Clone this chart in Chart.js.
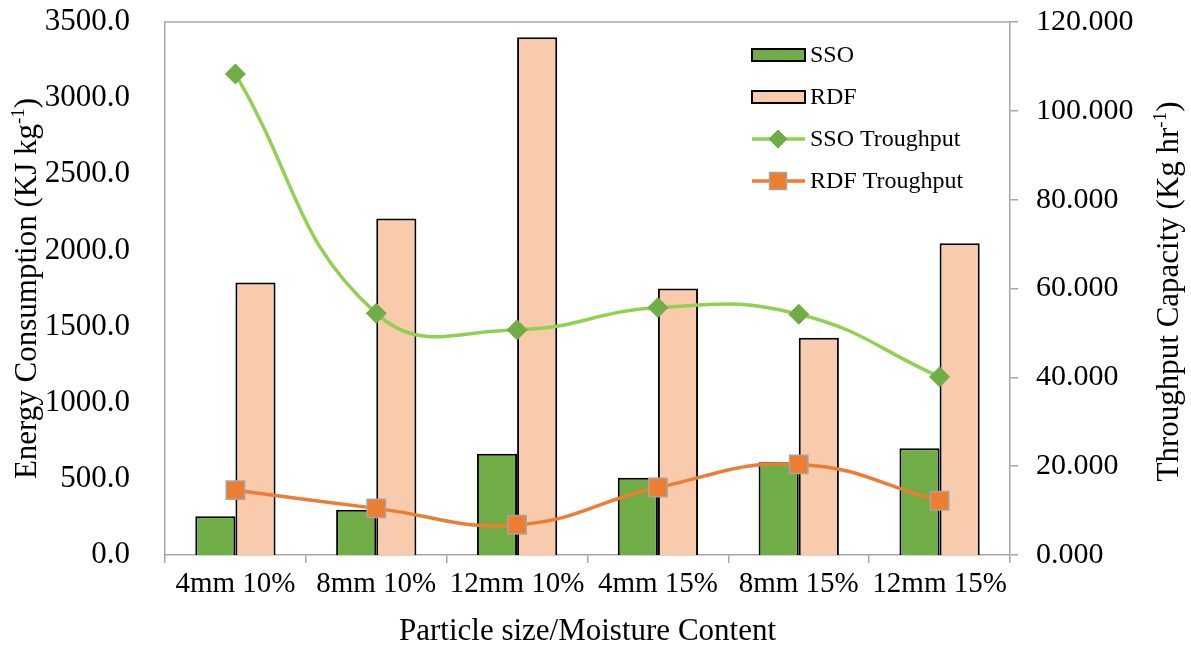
<!DOCTYPE html>
<html>
<head>
<meta charset="utf-8">
<script src="https://cdn.jsdelivr.net/npm/chart.js@4"></script>
<style>
  body { margin: 0; background: #ffffff; }
  canvas { display: block; }
</style>
</head>
<body>
<canvas id="graficoEnergia" width="1191" height="650"></canvas>
<script>
// Datos
const categorias = ['4mm 10%', '8mm 10%', '12mm 10%', '4mm 15%', '8mm 15%', '12mm 15%'];
const energiaSSO = [255, 297, 665, 508, 609, 701];
const energiaRDF = [1790, 2210, 3400, 1750, 1427, 2047];
const capacidadSSO = [108.3, 54.4, 50.7, 55.7, 54.2, 40.1];
const capacidadRDF = [14.6, 10.5, 6.8, 15.2, 20.4, 12.2];

const FUENTE = "'Liberation Serif', 'Times New Roman', serif";
const GRIS = '#A6A6A6';

// Título vertical con superíndice (se lee de abajo hacia arriba)
function tituloVertical(ctx, x, y, base, sup, cola, size) {
  ctx.save();
  ctx.translate(x, y);
  ctx.rotate(-Math.PI / 2);
  ctx.fillStyle = '#000000';
  ctx.textBaseline = 'middle';
  ctx.textAlign = 'left';
  const fNormal = size + 'px ' + FUENTE;
  const fSup = Math.round(size * 0.62) + 'px ' + FUENTE;
  ctx.font = fNormal;
  const w1 = ctx.measureText(base).width;
  const w3 = ctx.measureText(cola).width;
  ctx.font = fSup;
  const w2 = ctx.measureText(sup).width;
  let cx = -(w1 + w2 + w3) / 2;
  ctx.font = fNormal;
  ctx.fillText(base, cx, 0);
  cx += w1;
  ctx.font = fSup;
  ctx.fillText(sup, cx, -size * 0.3);
  cx += w2;
  ctx.font = fNormal;
  ctx.fillText(cola, cx, 0);
  ctx.restore();
}

const decoraciones = {
  id: 'decoraciones',
  afterDraw(chart) {
    const { ctx, chartArea } = chart;
    const ds = chart.data.datasets;
    ctx.save();

    // borde superior del área
    ctx.strokeStyle = GRIS;
    ctx.lineWidth = 1.5;
    ctx.beginPath();
    ctx.moveTo(chartArea.left, chartArea.top);
    ctx.lineTo(chartArea.right, chartArea.top);
    ctx.stroke();

    // títulos de los ejes verticales
    const medio = (chartArea.top + chartArea.bottom) / 2;
    tituloVertical(ctx, 28, medio, 'Energy Consumption (KJ kg', '-1', ')', 31);
    tituloVertical(ctx, 1170, medio + 3, 'Throughput Capacity (Kg hr', '-1', ')', 31);

    // leyenda dentro del área
    const x0 = 752, x1 = 805, xm = 778, xt = 810;
    const filas = [55, 97, 139, 181];
    ctx.font = '24px ' + FUENTE;
    ctx.textBaseline = 'middle';
    ctx.textAlign = 'left';
    ds.forEach((d, i) => {
      const y = filas[i];
      if (d.type === 'bar') {
        ctx.fillStyle = d.backgroundColor;
        ctx.fillRect(x0, y - 6, x1 - x0, 12);
        ctx.strokeStyle = '#000000';
        ctx.lineWidth = 2;
        ctx.strokeRect(x0, y - 6, x1 - x0, 12);
      } else {
        ctx.strokeStyle = d.borderColor;
        ctx.lineWidth = d.borderWidth;
        ctx.beginPath();
        ctx.moveTo(x0, y);
        ctx.lineTo(x1, y);
        ctx.stroke();
        ctx.fillStyle = d.pointBackgroundColor;
        ctx.strokeStyle = d.pointBorderColor;
        ctx.lineWidth = d.pointBorderWidth;
        ctx.beginPath();
        if (d.pointStyle === 'rectRot') {
          const r = 9;
          ctx.moveTo(xm, y - r);
          ctx.lineTo(xm + r, y);
          ctx.lineTo(xm, y + r);
          ctx.lineTo(xm - r, y);
          ctx.closePath();
        } else {
          ctx.rect(xm - 8.5, y - 8.5, 17, 17);
        }
        ctx.fill();
        ctx.stroke();
      }
      ctx.fillStyle = '#000000';
      ctx.fillText(d.label, xt, y + 1);
    });
    ctx.restore();
  }
};

const ctx = document.getElementById('graficoEnergia').getContext('2d');
new Chart(ctx, {
  data: {
    labels: categorias,
    datasets: [
      {
        type: 'bar',
        label: 'SSO',
        data: energiaSSO,
        yAxisID: 'y',
        backgroundColor: '#70AD47',
        borderColor: '#000000',
        borderWidth: 2,
        categoryPercentage: 0.57,
        barPercentage: 1.0,
        order: 2
      },
      {
        type: 'bar',
        label: 'RDF',
        data: energiaRDF,
        yAxisID: 'y',
        backgroundColor: '#F8CBAD',
        borderColor: '#000000',
        borderWidth: 2,
        categoryPercentage: 0.57,
        barPercentage: 1.0,
        order: 2
      },
      {
        type: 'line',
        label: 'SSO Troughput',
        data: capacidadSSO,
        yAxisID: 'y2',
        borderColor: '#92D050',
        borderWidth: 3.5,
        tension: 0.45,
        pointStyle: 'rectRot',
        pointRadius: 10,
        pointBackgroundColor: '#70AD47',
        pointBorderColor: '#70AD47',
        pointBorderWidth: 1,
        order: 1
      },
      {
        type: 'line',
        label: 'RDF Troughput',
        data: capacidadRDF,
        yAxisID: 'y2',
        borderColor: '#ED7D31',
        borderWidth: 3.5,
        tension: 0.45,
        pointStyle: 'rect',
        pointRadius: 13,
        pointBackgroundColor: '#ED7D31',
        pointBorderColor: '#A5A5A5',
        pointBorderWidth: 1.5,
        order: 1
      }
    ]
  },
  options: {
    responsive: false,
    animation: false,
    layout: { padding: 0 },
    plugins: {
      legend: { display: false },
      tooltip: { enabled: false }
    },
    scales: {
      x: {
        grid: { offset: true, drawOnChartArea: false, drawTicks: true, tickLength: 8, color: GRIS, lineWidth: 1.5 },
        border: { display: true, color: GRIS, width: 1.5 },
        ticks: { color: '#000000', font: { family: FUENTE, size: 29 }, padding: 4, maxRotation: 0, autoSkip: false },
        title: { display: true, text: 'Particle size/Moisture Content', color: '#000000', font: { family: FUENTE, size: 31 }, padding: { top: 0, bottom: 0 } },
        afterFit: (scale) => { scale.height = 95; }
      },
      y: {
        position: 'left',
        min: 0,
        max: 3500,
        grid: { display: false },
        border: { display: true, color: GRIS, width: 1.5 },
        ticks: { stepSize: 500, color: '#000000', font: { family: FUENTE, size: 31 }, padding: 27, callback: (v) => v.toFixed(1) },
        afterFit: (scale) => { scale.width = 165; scale.paddingTop = 22; }
      },
      y2: {
        position: 'right',
        min: 0,
        max: 120,
        grid: { drawOnChartArea: false, drawTicks: true, tickLength: 8, color: GRIS, lineWidth: 1.5 },
        border: { display: true, color: GRIS, width: 1.5 },
        ticks: { stepSize: 20, color: '#000000', font: { family: FUENTE, size: 30 }, padding: 18, callback: (v) => v.toFixed(3) },
        afterFit: (scale) => { scale.width = 181; scale.paddingTop = 22; }
      }
    }
  },
  plugins: [decoraciones]
});
</script>
</body>
</html>
